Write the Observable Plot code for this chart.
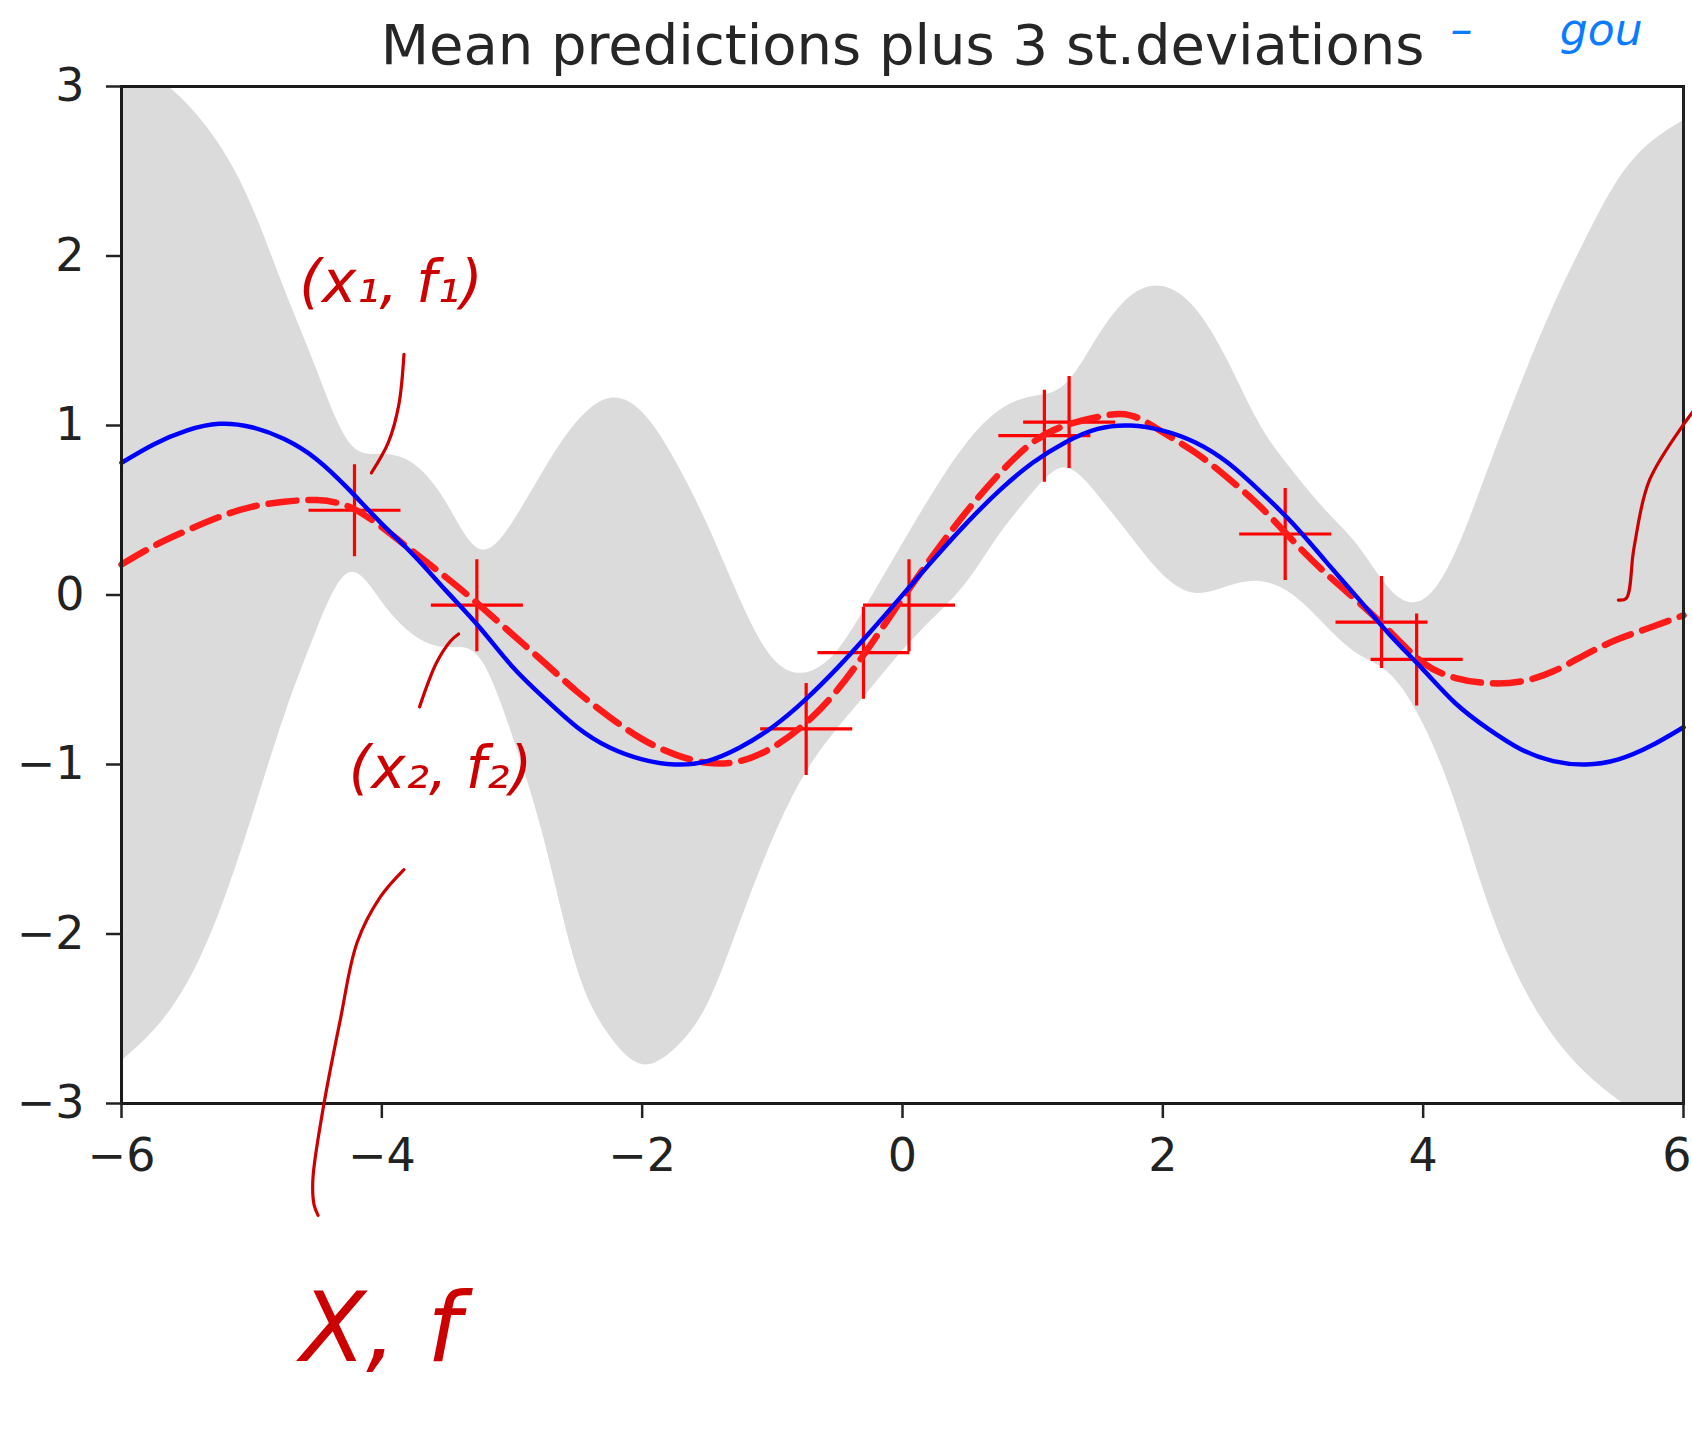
<!DOCTYPE html>
<html>
<head>
<meta charset="utf-8">
<script src="https://cdn.jsdelivr.net/npm/d3@7"></script>
<script src="https://cdn.jsdelivr.net/npm/@observablehq/plot@0.6"></script>
<style>
  html, body { margin: 0; padding: 0; background: #ffffff; }
  #chart { width: 1692px; height: 1432px; }
</style>
</head>
<body>
<div id="chart"></div>
<script>
// ---- chart text ----
const titleText = "Mean predictions plus 3 st.deviations";

// ---- ticks ----
const xTicks = [-6, -4, -2, 0, 2, 4, 6];
const xTickLabels = ["\u22126", "\u22124", "\u22122", "0", "2", "4", "6"];
const yTicks = [-3, -2, -1, 0, 1, 2, 3];
const yTickLabels = ["\u22123", "\u22122", "\u22121", "0", "1", "2", "3"];

// ---- test inputs ----
const gridX = [-6, -5.75, -5.5, -5.25, -5, -4.75, -4.5, -4.25, -4, -3.75, -3.5, -3.25, -3, -2.75, -2.5, -2.25,
  -2, -1.75, -1.5, -1.25, -1, -0.75, -0.5, -0.25, 0, 0.25, 0.5, 0.75, 1, 1.25, 1.5, 1.75,
  2, 2.25, 2.5, 2.75, 3, 3.25, 3.5, 3.75, 4, 4.25, 4.5, 4.75, 5, 5.25, 5.5, 5.75, 6];

// mean + 3 st.dev (upper edge of grey band)
const upperBand = [3.14, 3.06, 2.90, 2.66, 2.30, 1.81, 1.33, 0.90, 0.83, 0.77, 0.54, 0.27, 0.42, 0.74, 1.02, 1.16,
  1.08, 0.80, 0.42, -0.02, -0.37, -0.46, -0.33, -0.03, 0.30, 0.62, 0.90, 1.09, 1.17, 1.24, 1.52, 1.76,
  1.82, 1.69, 1.38, 1.00, 0.73, 0.50, 0.29, 0.03, -0.03, 0.25, 0.74, 1.24, 1.70, 2.10, 2.45, 2.67, 2.80];

// mean - 3 st.dev (lower edge of grey band)
const lowerBand = [-2.75, -2.57, -2.30, -1.88, -1.32, -0.72, -0.21, 0.13, -0.04, -0.24, -0.31, -0.37, -0.82, -1.45, -2.20, -2.60,
  -2.77, -2.68, -2.42, -1.94, -1.45, -1.06, -0.79, -0.56, -0.33, -0.13, 0.08, 0.36, 0.60, 0.75, 0.59, 0.35,
  0.12, 0.01, 0.05, 0.08, 0.00, -0.18, -0.35, -0.47, -0.76, -1.23, -1.82, -2.28, -2.60, -2.82, -2.98, -3.08, -3.05];

// mean prediction (red dashed)
const meanPred = [0.18, 0.29, 0.38, 0.46, 0.52, 0.55, 0.56, 0.52, 0.40, 0.25, 0.10, -0.06, -0.23, -0.40, -0.57, -0.72,
  -0.85, -0.94, -0.99, -0.98, -0.90, -0.76, -0.56, -0.30, -0.02, 0.25, 0.50, 0.72, 0.90, 1.00, 1.05, 1.06,
  0.96, 0.84, 0.69, 0.52, 0.32, 0.13, -0.04, -0.22, -0.40, -0.49, -0.52, -0.51, -0.45, -0.35, -0.26, -0.19, -0.12];

// true function (blue)
const trueF = [0.78, 0.89, 0.97, 1.01, 0.99, 0.92, 0.80, 0.62, 0.42, 0.23, 0.02, -0.19, -0.42, -0.61, -0.78, -0.90,
  -0.97, -1.00, -0.98, -0.90, -0.78, -0.62, -0.43, -0.22, 0.00, 0.22, 0.43, 0.62, 0.78, 0.90, 0.98, 1.00,
  0.97, 0.90, 0.78, 0.61, 0.42, 0.20, -0.02, -0.24, -0.44, -0.64, -0.79, -0.91, -0.98, -1.00, -0.97, -0.89, -0.78];

// ---- training points (red +) ----
const trainX = [-4.21, -3.27, -0.74, -0.30, 0.05, 1.09, 1.28, 2.94, 3.68, 3.95];
const trainY = [0.50, -0.06, -0.79, -0.34, -0.06, 0.94, 1.02, 0.36, -0.16, -0.38];

// ---- handwritten annotations (in data coordinates) ----
const inkStrokeId = ["a","a","a","a", "b","b","b","b", "c","c","c","c","c","c","c","c", "d","d","d","d","d"];
const inkStrokeX = [-3.83, -3.87, -3.95, -4.08,  -3.41, -3.47, -3.58, -3.71,
  -3.83, -4.01, -4.19, -4.32, -4.46, -4.53, -4.52, -4.49,  6.07, 5.74, 5.62, 5.56, 5.50];
const inkStrokeY = [1.42, 1.12, 0.90, 0.72,  -0.23, -0.27, -0.40, -0.66,
  -1.62, -1.78, -2.05, -2.51, -3.07, -3.45, -3.60, -3.66,  1.08, 0.68, 0.28, -0.02, -0.03];
const inkLabels = ["(x\u2081, f\u2081)", "(x\u2082, f\u2082)", "X, f"];
const inkLabelX = [-3.93, -3.55, -4.01];
const inkLabelY = [1.84, -1.03, -4.34];
const inkLabelSize = [58, 58, 96];
const blueInkText = ["\u2013", "gou"];
const blueInkX = [4.21, 5.05];
const blueInkY = [3.43, 3.43];

// ---- build tables ----
const curve = gridX.map((x, i) => ({x, upper: upperBand[i], lower: lowerBand[i], mean: meanPred[i], truth: trueF[i]}));
const train = trainX.map((x, i) => ({x, y: trainY[i]}));
const ink = inkStrokeX.map((x, i) => ({id: inkStrokeId[i], x, y: inkStrokeY[i]}));
const inkText = inkLabels.map((t, i) => ({t, x: inkLabelX[i], y: inkLabelY[i], s: inkLabelSize[i]}));
const blueInk = blueInkText.map((t, i) => ({t, x: blueInkX[i], y: blueInkY[i]}));
const xTicksInner = xTicks.slice(0, -1);
const xTicksLast = xTicks.slice(-1);

const plusSymbol = {
  draw(context, size) {
    const r = Math.sqrt(size / Math.PI);
    context.moveTo(-r, 0); context.lineTo(r, 0);
    context.moveTo(0, -r); context.lineTo(0, r);
  }
};
const fmtX = d => xTickLabels[xTicks.indexOf(d)];

const chart = Plot.plot({
  width: 1692,
  height: 1432,
  marginLeft: 121,
  marginRight: 9,
  marginTop: 86,
  marginBottom: 329,
  x: {domain: [-6, 6]},
  y: {domain: [-3, 3]},
  style: {fontFamily: "'DejaVu Sans', sans-serif", background: "#ffffff", color: "#222222"},
  marks: [
    Plot.areaY(curve, {x: "x", y1: "lower", y2: "upper", fill: "#dbdbdb", curve: "natural", clip: true}),
    Plot.dot(train, {x: "x", y: "y", symbol: plusSymbol, r: 46, stroke: "#ff0000", strokeWidth: 3.2, fill: "none"}),
    Plot.line(curve, {x: "x", y: "mean", stroke: "#ff1a1a", strokeWidth: 6.5, strokeDasharray: "28,12", curve: "natural"}),
    Plot.line(curve, {x: "x", y: "truth", stroke: "#0000ff", strokeWidth: 4.5, curve: "natural"}),
    Plot.frame({stroke: "#1a1a1a", strokeWidth: 3}),
    Plot.axisX({ticks: xTicksInner, tickSize: 15, tickPadding: 20, strokeWidth: 2.5, fontSize: 46, label: null, tickFormat: fmtX}),
    Plot.tickX(xTicksLast, {x: d => d, y1: -3, y2: -3, insetBottom: -15, stroke: "#222222", strokeWidth: 2.5}),
    Plot.text(xTicksLast, {x: d => d, text: fmtX, frameAnchor: "bottom", lineAnchor: "top", dy: 35, dx: 8,
      textAnchor: "end", fontSize: 46, fill: "#222222"}),
    Plot.axisY({ticks: yTicks, tickSize: 15, tickPadding: 22, strokeWidth: 2.5, fontSize: 46, label: null,
      tickFormat: d => yTickLabels[yTicks.indexOf(d)]}),
    Plot.text([titleText], {frameAnchor: "top", dy: -23, lineAnchor: "bottom", fontSize: 56, fill: "#262626"}),
    Plot.line(ink, {x: "x", y: "y", z: "id", stroke: "#cc0000", strokeWidth: 3.2, curve: "catmull-rom"}),
    Plot.text(inkText, {x: "x", y: "y", text: "t", fill: "#cc0000", fontSize: "s", fontStyle: "italic", fontWeight: 200,
      fontFamily: "'DejaVu Sans', sans-serif"}),
    Plot.text(blueInk, {x: "x", y: "y", text: "t", fill: "#0a7cff", fontSize: 44, fontStyle: "italic", fontWeight: 200,
      textAnchor: "start", lineAnchor: "top", fontFamily: "'DejaVu Sans', sans-serif"})
  ]
});
document.getElementById("chart").appendChild(chart);
</script>
</body>
</html>
